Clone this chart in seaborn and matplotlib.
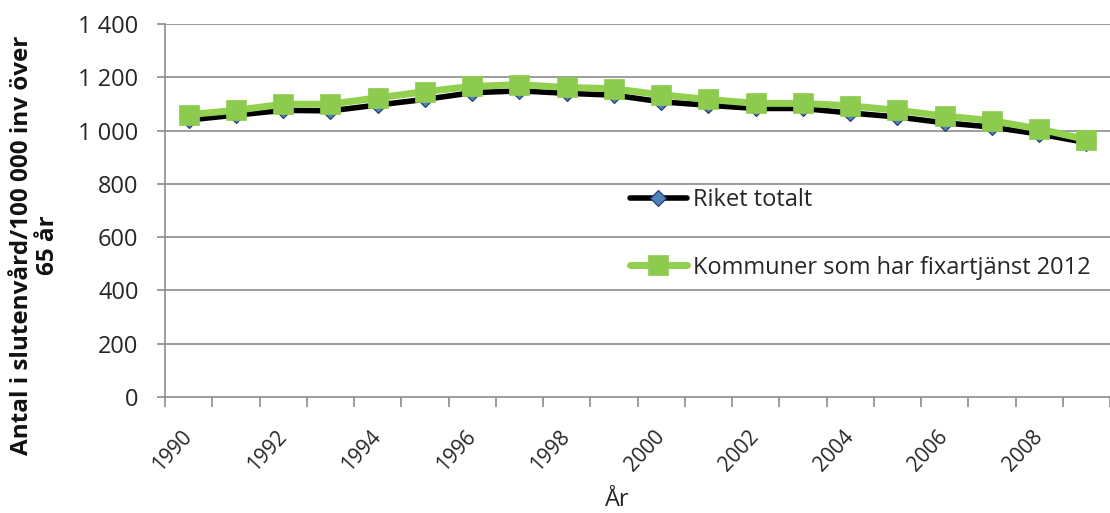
import numpy as np
import pandas as pd
import matplotlib
matplotlib.use("Agg")
import matplotlib.pyplot as plt
from matplotlib.transforms import ScaledTranslation
import seaborn as sns

years = list(range(1990, 2010))
riket_totalt = [1040, 1058, 1076, 1074, 1096, 1117, 1142, 1149, 1140, 1133,
                1108, 1095, 1083, 1083, 1066, 1051, 1029, 1013, 987, 955]
kommuner_fixartjanst = [1060, 1076, 1099, 1099, 1123, 1146, 1166, 1172, 1162, 1157,
                        1134, 1117, 1102, 1102, 1093, 1076, 1055, 1037, 1006, 966]
series_names = ["Riket totalt", "Kommuner som har fixartjänst 2012"]
y_ticks = [0, 200, 400, 600, 800, 1000, 1200, 1400]
y_tick_labels = ["0", "200", "400", "600", "800", "1 000", "1 200", "1 400"]

sns.set_theme(style="white")
plt.rcParams["font.family"] = ["Open Sans", "DejaVu Sans"]

W, H = 1110, 513
fig = plt.figure(figsize=(W / 100, H / 100), dpi=100)
ax = fig.add_axes([165 / W, 1 - 397 / H, 1 - 165 / W, (397 - 24) / H])

pos = np.arange(len(years))
df_r = pd.DataFrame({"pos": pos, "value": riket_totalt})
df_k = pd.DataFrame({"pos": pos, "value": kommuner_fixartjanst})

grid_col = "#8c8c8c"
text_col = "#262626"
for y in y_ticks[1:]:
    ax.axhline(y, color=grid_col, lw=1.2, zorder=1)

sns.lineplot(data=df_r, x="pos", y="value", ax=ax, color="black", lw=4,
             marker="D", markersize=8, markerfacecolor="#4F81BD",
             markeredgecolor="#1F3A60", markeredgewidth=0.8,
             label=series_names[0], zorder=3)
sns.lineplot(data=df_k, x="pos", y="value", ax=ax, color="#92D050", lw=5,
             marker="s", markersize=14, markerfacecolor="#8DCB4F",
             markeredgecolor="#8DCB4F", markeredgewidth=0.5,
             label=series_names[1], zorder=4)

ax.set_xlim(-0.5, 19.35)
ax.set_ylim(0, 1400)

# category boundaries carry the tick marks, labels sit on category centers
ax.set_xticks(np.arange(-0.5, 20, 1.0))
ax.set_xticklabels([])
ax.set_xticks(pos[::2], minor=True)
ax.set_xticklabels([str(y) for y in years[::2]], minor=True, rotation=47,
                   ha="right", va="center", rotation_mode="anchor",
                   fontsize=15, color=text_col)
shift = ScaledTranslation(7 / 100, 0, fig.dpi_scale_trans)
for lab in ax.get_xticklabels(minor=True):
    lab.set_transform(lab.get_transform() + shift)
ax.tick_params(axis="x", which="major", direction="out", length=7,
               width=1.2, color=grid_col, bottom=True)
ax.tick_params(axis="x", which="minor", length=0, pad=26, bottom=True)

ax.set_yticks(y_ticks)
ax.set_yticklabels(y_tick_labels, fontsize=17, color=text_col)
ax.tick_params(axis="y", direction="out", length=6, width=1.2,
               color=grid_col, left=True, pad=13)

for s in ["top", "right"]:
    ax.spines[s].set_visible(False)
for s in ["left", "bottom"]:
    ax.spines[s].set_color(grid_col)
    ax.spines[s].set_linewidth(1.2)

ax.set_xlabel("År", fontsize=17, color=text_col)
ax.xaxis.label.set_va("center")
ax.xaxis.set_label_coords((617 - 165) / 945, (397 - 500) / 373)

ax.set_ylabel("Antal i slutenvård/100 000 inv över\n65 år", fontsize=17.5,
              fontweight="bold", color="#111111", linespacing=1.1)
ax.yaxis.label.set_rotation_mode("default")
ax.yaxis.label.set_va("center")
ax.yaxis.label.set_ha("center")
ax.yaxis.set_label_coords((35 - 165) / 945, (397 - 245) / 373)

leg = ax.legend(loc="upper left", bbox_to_anchor=(630 / W, 1 - 188 / H),
                bbox_transform=fig.transFigure, frameon=False, fontsize=17,
                handlelength=2.4, handletextpad=0.25, labelspacing=1.85,
                borderpad=0, borderaxespad=0)
for t in leg.get_texts():
    t.set_color(text_col)

fig.savefig("out.png", dpi=100)
